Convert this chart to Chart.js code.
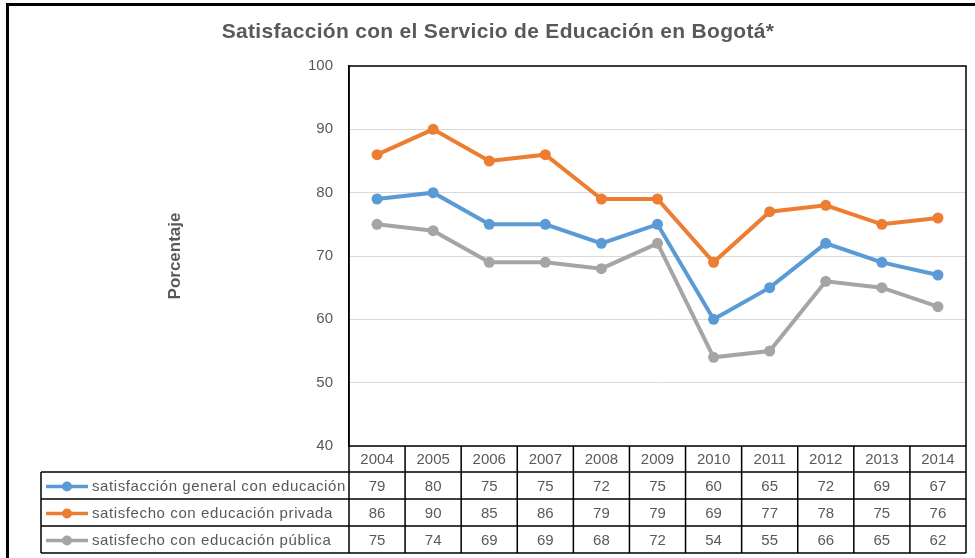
<!DOCTYPE html>
<html>
<head>
<meta charset="utf-8">
<script src="https://cdn.jsdelivr.net/npm/chart.js@4"></script>
<style>
    html, body { margin: 0; padding: 0; background: #fff; }
    #wrap { width: 975px; height: 558px; }
</style>
</head>
<body>
<div id="wrap"><canvas id="eduChart"></canvas></div>
<script>
// Datos del gráfico
const years = ['2004', '2005', '2006', '2007', '2008', '2009', '2010', '2011', '2012', '2013', '2014'];
const general = [79, 80, 75, 75, 72, 75, 60, 65, 72, 69, 67];
const privada = [86, 90, 85, 86, 79, 79, 69, 77, 78, 75, 76];
const publica = [75, 74, 69, 69, 68, 72, 54, 55, 66, 65, 62];
const seriesNames = ['satisfacción general con educación', 'satisfecho con educación privada', 'satisfecho con educación pública'];
const yTicks = [40, 50, 60, 70, 80, 90, 100];

const gray = '#595959';
const font = '"Liberation Sans", Arial, sans-serif';

// Marco, título y tabla de datos
const tablePlugin = {
    id: 'tablePlugin',
    afterDraw(chart) {
        const ctx = chart.ctx;
        const area = chart.chartArea;
        const x = chart.scales.x;
        ctx.save();

        // marco exterior
        ctx.strokeStyle = '#000';
        ctx.lineWidth = 3;
        ctx.beginPath();
        ctx.moveTo(7.5, 558);
        ctx.lineTo(7.5, 4.5);
        ctx.lineTo(975, 4.5);
        ctx.stroke();

        // título
        ctx.fillStyle = gray;
        ctx.font = 'bold 21px ' + font;
        ctx.letterSpacing = '0.3px';
        ctx.textAlign = 'center';
        ctx.textBaseline = 'middle';
        ctx.fillText('Satisfacción con el Servicio de Educación en Bogotá*', 498, 32);
        ctx.letterSpacing = '0px';

        // filas de la tabla
        const rows = [area.bottom, area.bottom + 26, area.bottom + 53, area.bottom + 80, area.bottom + 107];
        const labelLeft = 41;
        const half = (x.getPixelForValue(1) - x.getPixelForValue(0)) / 2;

        ctx.strokeStyle = '#000';
        ctx.lineWidth = 1.5;
        ctx.beginPath();
        // borde del área de trazado
        ctx.moveTo(area.left, area.top);
        ctx.lineTo(area.right, area.top);
        ctx.lineTo(area.right, rows[4]);
        ctx.moveTo(area.left, area.top);
        ctx.lineTo(area.left, rows[4]);
        ctx.moveTo(area.left, rows[0]);
        ctx.lineTo(area.right, rows[0]);
        for (let r = 1; r < rows.length; r++) {
            ctx.moveTo(labelLeft, rows[r]);
            ctx.lineTo(area.right, rows[r]);
        }
        ctx.moveTo(labelLeft, rows[1]);
        ctx.lineTo(labelLeft, rows[4]);
        for (let i = 1; i < years.length; i++) {
            const cx = x.getPixelForValue(i) - half;
            ctx.moveTo(cx, rows[0]);
            ctx.lineTo(cx, rows[4]);
        }
        ctx.stroke();

        ctx.font = '15px ' + font;
        ctx.fillStyle = gray;
        ctx.textAlign = 'center';
        years.forEach(function (yr, i) {
            ctx.fillText(yr, x.getPixelForValue(i), (rows[0] + rows[1]) / 2 + 1);
        });

        chart.data.datasets.forEach(function (ds, r) {
            const cy = (rows[r + 1] + rows[r + 2]) / 2 + 1;
            ctx.fillStyle = gray;
            ctx.textAlign = 'center';
            ds.data.forEach(function (v, i) {
                ctx.fillText(String(v), x.getPixelForValue(i), cy);
            });
            // clave de leyenda
            ctx.strokeStyle = ds.borderColor;
            ctx.lineWidth = 3.5;
            ctx.beginPath();
            ctx.moveTo(46, cy);
            ctx.lineTo(88, cy);
            ctx.stroke();
            ctx.fillStyle = ds.borderColor;
            ctx.beginPath();
            ctx.arc(67, cy, 5, 0, Math.PI * 2);
            ctx.fill();
            ctx.fillStyle = gray;
            ctx.textAlign = 'left';
            ctx.letterSpacing = '0.6px';
            ctx.fillText(ds.label, 92, cy);
            ctx.letterSpacing = '0px';
        });

        ctx.restore();
    }
};

const eduCtx = document.getElementById('eduChart').getContext('2d');
const eduChart = new Chart(eduCtx, {
    type: 'line',
    data: {
        labels: years,
        datasets: [{
            label: seriesNames[0],
            data: general,
            borderColor: '#5B9BD5',
            backgroundColor: '#5B9BD5'
        }, {
            label: seriesNames[1],
            data: privada,
            borderColor: '#ED7D31',
            backgroundColor: '#ED7D31'
        }, {
            label: seriesNames[2],
            data: publica,
            borderColor: '#A5A5A5',
            backgroundColor: '#A5A5A5'
        }]
    },
    options: {
        responsive: true,
        maintainAspectRatio: false,
        animation: false,
        layout: {
            padding: { left: 150, right: 9, top: 66, bottom: 112 }
        },
        elements: {
            line: { borderWidth: 4, tension: 0 },
            point: { radius: 5.5, hoverRadius: 5.5, borderWidth: 0 }
        },
        scales: {
            x: {
                type: 'category',
                display: false,
                offset: true
            },
            y: {
                min: 40,
                max: 100,
                afterFit: function (scale) { scale.width = 199; },
                afterBuildTicks: function (scale) {
                    scale.ticks = yTicks.map(function (v) { return { value: v }; });
                },
                border: { color: '#000', width: 1.5 },
                grid: { color: '#d9d9d9', lineWidth: 1, drawTicks: false },
                ticks: {
                    padding: 16,
                    color: gray,
                    font: { family: font, size: 15 }
                },
                title: {
                    display: true,
                    text: 'Porcentaje',
                    color: gray,
                    font: { family: font, size: 17, weight: 'bold' },
                    padding: { top: 15, bottom: 0 }
                }
            }
        },
        plugins: {
            legend: { display: false },
            title: { display: false },
            tooltip: { enabled: false }
        }
    },
    plugins: [tablePlugin]
});
</script>
</body>
</html>
